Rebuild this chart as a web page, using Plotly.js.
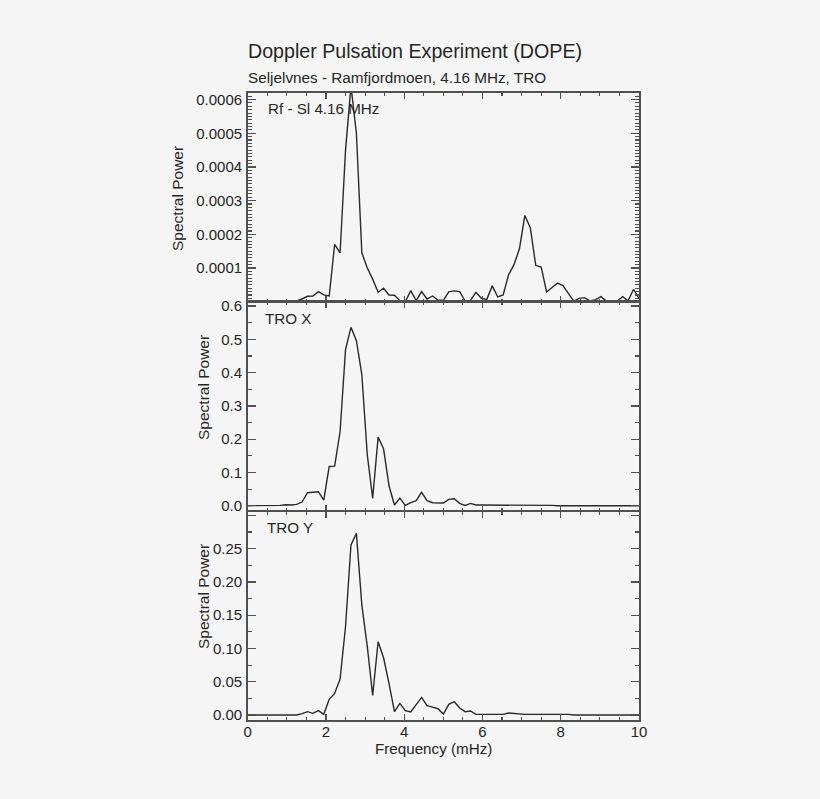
<!DOCTYPE html>
<html>
<head>
<meta charset="utf-8">
<script src="https://cdn.plot.ly/plotly-3.0.1.min.js"></script>
<style>html,body{margin:0;padding:0;background:#f5f5f5}</style>
</head>
<body>
<div id="chart" style="width:820px;height:799px"></div>
<script>
var frequency = [0,0.139,0.278,0.417,0.556,0.694,0.833,0.972,1.111,1.25,1.389,1.528,1.667,1.806,1.944,2.083,2.222,2.361,2.5,2.639,2.778,2.917,3.056,3.194,3.333,3.472,3.611,3.75,3.889,4.028,4.167,4.306,4.444,4.583,4.722,4.861,5,5.139,5.278,5.417,5.556,5.694,5.833,5.972,6.111,6.25,6.389,6.528,6.667,6.806,6.944,7.083,7.222,7.361,7.5,7.639,7.778,7.917,8.056,8.194,8.333,8.472,8.611,8.75,8.889,9.028,9.167,9.306,9.444,9.583,9.722,9.861,10];
var rfSl = [0,0,0,0,0,0,0,0,0.000001,0.000002,0.000008,0.000016,0.000017,0.00003,0.00002,0.000017,0.00017,0.000145,0.00045,0.00064,0.0005,0.000145,0.0001,0.000067,0.000028,0.00004,0.00002,0.000019,0.000003,0,0.000033,0.000003,0.00003,0.000008,0.000017,0.000005,0.000004,0.000029,0.000032,0.00003,0.000002,0.000004,0.000028,0.00001,0.000007,0.000047,0.000014,0.00002,0.00008,0.00011,0.000157,0.000256,0.00022,0.000108,0.000103,0.000029,0.000042,0.000055,0.000048,0.000024,0.000002,0.00001,0.000012,0.000002,0.000006,0.000015,0.000002,0.000002,0.000002,0.000015,0.000003,0.000037,0.00001];
var troX = [0,0,0,0,0,0,0.001,0.003,0.002,0.004,0.011,0.039,0.04,0.042,0.017,0.118,0.119,0.223,0.469,0.536,0.496,0.394,0.153,0.022,0.206,0.171,0.06,0.002,0.023,0.001,0.009,0.015,0.04,0.015,0.009,0.008,0.008,0.019,0.021,0.007,0.001,0.007,0.002,0.002,0.002,0.002,0.001,0.001,0.002,0.003,0.002,0.001,0.001,0.001,0.001,0.001,0.001,0,0,0,0,0,0,0,0,0,0,0,0,0,0,0,0];
var troY = [0,0,0,0,0,0,0,0,0,0,0.002,0.005,0.0025,0.0065,0.001,0.0235,0.0325,0.054,0.133,0.2555,0.273,0.165,0.103,0.0295,0.11,0.086,0.0475,0.005,0.0175,0.0065,0.0045,0.015,0.0265,0.014,0.012,0.0095,0.0015,0.016,0.02,0.0105,0.005,0.006,0.001,0.001,0.002,0.001,0.001,0.001,0.003,0.002,0.001,0.001,0.001,0.001,0.002,0.001,0.001,0.002,0.002,0.001,0,0,0,0,0,0,0,0,0,0,0,0,0];
var ticksRf = [0.0001,0.0002,0.0003,0.0004,0.0005,0.0006];
var labelsRf = ['0.0001','0.0002','0.0003','0.0004','0.0005','0.0006'];
var ticksX = [0,0.1,0.2,0.3,0.4,0.5,0.6];
var labelsX = ['0.0','0.1','0.2','0.3','0.4','0.5','0.6'];
var ticksY = [0,0.05,0.1,0.15,0.2,0.25,0.3];
var labelsY = ['0.00','0.05','0.10','0.15','0.20','0.25',''];
var xTicks = [0,2,4,6,8,10];
var xLabels = ['0','2','4','6','8','10'];

var W = 820, H = 799;
var INK = '#262626', AXIS = '#505050', FONT = '"Liberation Sans", Arial, sans-serif';
function yd(top, bottom){ return [1 - bottom / H, 1 - top / H]; }
function xAxis(anchor, labelled){
  return {domain:[247.7/W, 639/W], range:[0,10], anchor:anchor, tickmode:'array', tickvals:xTicks, ticktext:xLabels,
    ticks:'inside', ticklen:6, tickwidth:1.3, tickcolor:AXIS, mirror:'ticks', showline:true, linecolor:AXIS, linewidth:1.6,
    showgrid:false, zeroline:false, showticklabels:labelled, ticklabelstandoff:-3,
    minor:{dtick:0.5, tick0:0, ticks:'inside', ticklen:3, tickwidth:1.1, tickcolor:AXIS, showgrid:false},
    tickfont:{family:FONT,size:15,color:INK}};
}
function yAxis(anchor, domain, range, vals, text, minorStep){
  return {domain:domain, range:range, anchor:anchor, tickmode:'array', tickvals:vals, ticktext:text,
    ticks:'inside', ticklen:8, tickwidth:1.3, tickcolor:AXIS, mirror:'ticks', showline:true, linecolor:AXIS, linewidth:1.6,
    showgrid:false, zeroline:false, ticklabelstandoff:1,
    minor:{dtick:minorStep, tick0:0, ticks:'inside', ticklen:4, tickwidth:1.1, tickcolor:AXIS, showgrid:false},
    tickfont:{family:FONT,size:15,color:INK}};
}
function trace(y, xa, ya){ return {x:frequency, y:y, xaxis:xa, yaxis:ya, type:'scatter', mode:'lines', line:{color:'#2a2a2a',width:1.4,shape:'linear'}, hoverinfo:'skip'}; }
function note(text, px, py, size, rot, anchor){
  return {text:text, xref:'paper', yref:'paper', x:px/W, y:1-py/H, showarrow:false, xanchor:anchor||'left', yanchor:'middle', textangle:rot||0,
    borderpad:0, borderwidth:0, font:{family:FONT,size:size,color:INK}};
}
var layout = {
  width:W, height:H, margin:{l:0,r:0,t:0,b:0}, showlegend:false,
  paper_bgcolor:'#f5f5f5', plot_bgcolor:'#f5f5f5',
  title:{text:'Doppler Pulsation Experiment (DOPE)', x:248/W, xanchor:'left', xref:'paper', y:1-51/H, yanchor:'middle', font:{family:FONT,size:19.65,color:INK}},
  xaxis:xAxis('y',false), xaxis2:xAxis('y2',false), xaxis3:xAxis('y3',true),
  yaxis:yAxis('x', yd(92.5,301.7), [0,0.000621], ticksRf, labelsRf, 0.00001),
  yaxis2:yAxis('x2', yd(301.7,510.7), [-0.015,0.613], ticksX, labelsX, 0.05),
  yaxis3:yAxis('x3', yd(511.7,720), [-0.0075,0.3055], ticksY, labelsY, 0.025),
  annotations:[
    note('Seljelvnes - Ramfjordmoen, 4.16 MHz, TRO',247.5,77,15.3),
    note('Rf - Sl 4.16 MHz',268,109,15.2),
    note('TRO X',265,318,15.2),
    note('TRO Y',267,527,15.2),
    note('Frequency (mHz)',433,748,15.2,0,'center'),
    note('Spectral Power',177.5,198.5,15.5,-90,'center'),
    note('Spectral Power',203,388,15.5,-90,'center'),
    note('Spectral Power',203,597,15.5,-90,'center')
  ]
};
Plotly.newPlot('chart',[trace(rfSl,'x','y'),trace(troX,'x2','y2'),trace(troY,'x3','y3')],layout,{displayModeBar:false,staticPlot:true});
</script>
</body>
</html>
